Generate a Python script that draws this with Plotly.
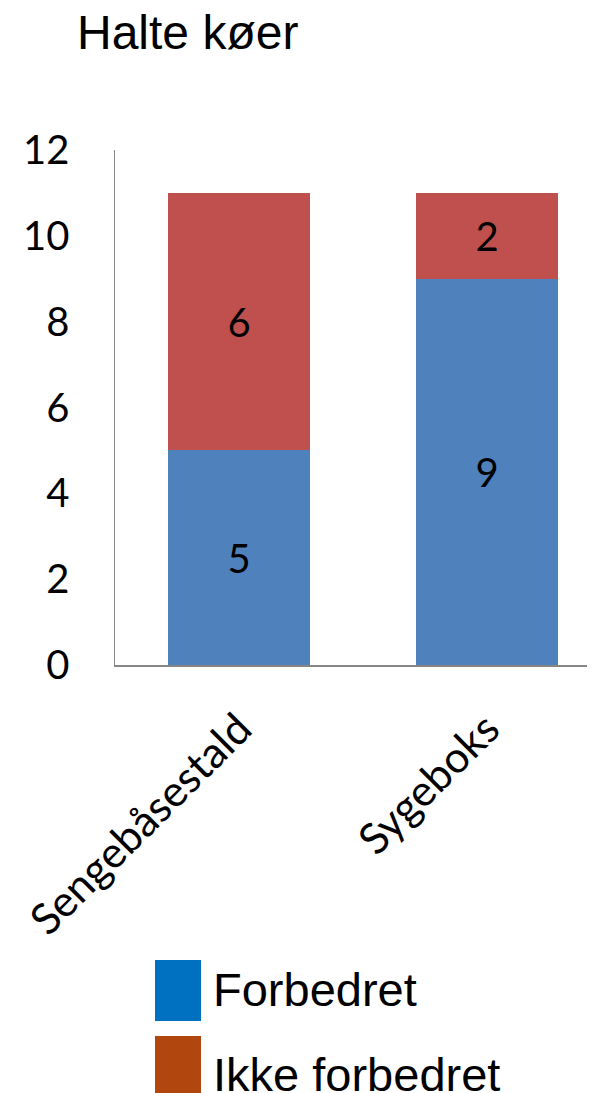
import plotly.graph_objects as go

categories = ["Sengebåsestald", "Sygeboks"]
forbedret = [5, 9]
ikke_forbedret = [6, 2]
series_names = ["Forbedret", "Ikke forbedret"]
y_ticks = [0, 2, 4, 6, 8, 10, 12]
title_text = "Halte køer"

OFF = 8  # page body margin
W, H = 595 - OFF, 1093 - OFF
L, R, T, B = 115 - OFF, 595 - OFF, 150 - OFF, 665 - OFF  # plot area in figure px
pw, ph = R - L, B - T

def px(x):
    return (x - OFF - L) / pw

def py(y):
    return (B - (y - OFF)) / ph

tick_font = dict(family="Lato, Open Sans, sans-serif", size=40, color="black")
cat_font = dict(family="Lato, Open Sans, sans-serif", size=43, color="black")
arial = dict(family="Liberation Sans, Arial, sans-serif", size=47, color="black")

fig = go.Figure()
fig.add_trace(go.Bar(x=categories, y=forbedret, name=series_names[0],
                     marker=dict(color="#4F81BD", line=dict(width=0)),
                     texttemplate="%{y}", textposition="inside",
                     insidetextanchor="middle", textfont=tick_font,
                     constraintext="none"))
fig.add_trace(go.Bar(x=categories, y=ikke_forbedret, name=series_names[1],
                     marker=dict(color="#C0504D", line=dict(width=0)),
                     texttemplate="%{y}", textposition="inside",
                     insidetextanchor="middle", textfont=tick_font,
                     constraintext="none"))

# category slot ~248px wide; plot area 480px
x_hi = -0.5 + pw / 248.0

fig.update_layout(
    width=W, height=H,
    margin=dict(l=L, r=W - R, t=T, b=H - B, pad=0),
    barmode="stack", bargap=0.43,
    plot_bgcolor="white", paper_bgcolor="white",
    showlegend=False, hovermode=False,
    uniformtext=dict(minsize=10, mode=False),
    xaxis=dict(range=[-0.5, x_hi], showline=True, linecolor="#868686", linewidth=1.5,
               showgrid=False, zeroline=False, ticks="", tickangle=-45,
               tickfont=cat_font, ticklabelstandoff=20, fixedrange=True),
    yaxis=dict(range=[0, 12], tickvals=y_ticks, showline=True, linecolor="#868686",
               linewidth=1.5, showgrid=False, zeroline=False, ticks="",
               tickfont=tick_font, ticklabelstandoff=36, fixedrange=True),
)

annotations = [
    dict(text=title_text, x=px(75), y=py(32), xanchor="left", yanchor="middle",
         font=dict(family="Liberation Sans, Arial, sans-serif", size=48, color="black")),
    dict(text=series_names[0], x=px(211), y=py(989), xanchor="left", yanchor="middle", font=arial),
    dict(text=series_names[1], x=px(211), y=py(1074), xanchor="left", yanchor="middle", font=arial),
]
for a in annotations:
    a.update(xref="paper", yref="paper", showarrow=False)
fig.update_layout(annotations=annotations)

fig.add_shape(type="rect", xref="paper", yref="paper", x0=px(155), x1=px(201),
              y0=py(1021), y1=py(960), fillcolor="#0070C0", line=dict(width=0))
fig.add_shape(type="rect", xref="paper", yref="paper", x0=px(155), x1=px(201),
              y0=py(1093), y1=py(1036), fillcolor="#B1460F", line=dict(width=0))

fig.write_html("out.html", config=dict(displayModeBar=False, staticPlot=True))
